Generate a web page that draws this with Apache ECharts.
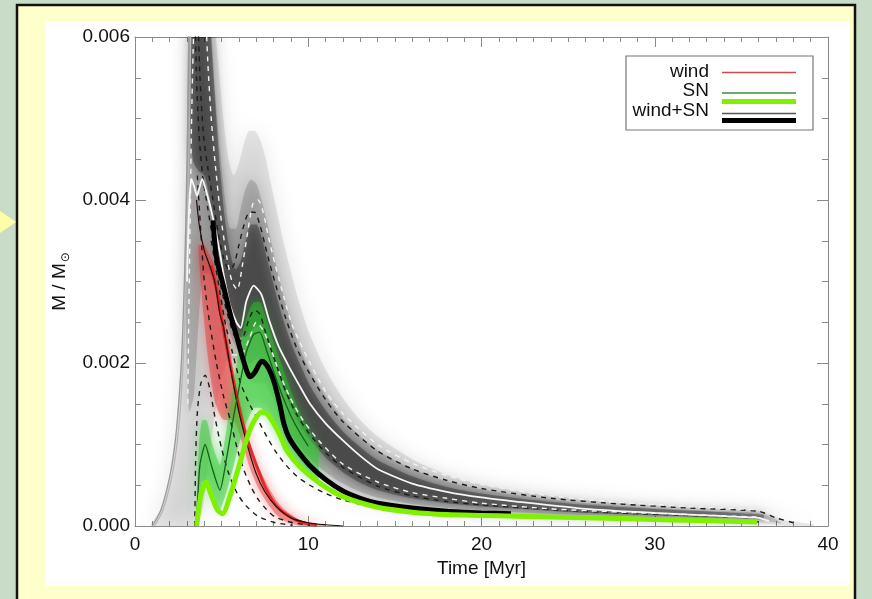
<!DOCTYPE html>
<html><head><meta charset="utf-8">
<script src="https://cdn.jsdelivr.net/npm/echarts@6/dist/echarts.min.js"></script>
<style>html,body{margin:0;padding:0;background:#c9dcc8;}#chart{width:872px;height:599px;}</style>
</head><body><div id="chart"></div>
<script>
// ---- axis ticks ----
const xTicks = [0, 10, 20, 30, 40];
const yTicks = [0.000, 0.002, 0.004, 0.006];

// ---- gray density of wind+SN (outer / mid / core envelopes) ----
const grayOuterX = [0.9,1.5,2.0,2.4,2.7,2.85,3.0,3.15,3.5,3.9,4.2,4.5,4.8,5.1,5.4,5.7,6.0,6.3,6.6,6.9,7.2,7.5,7.8,8.1,8.5,8.9,9.4,10,11,12,13,14,16,18,20,22,24,26,28,30,32,34,36,36.8,37.5,38.5,39.2];
const grayOuterLo = [0,0,0,0,0,0,0,0,0,0.0002,0.0007,0.0012,0.0016,0.0019,0.00205,0.00205,0.002,0.0019,0.0018,0.00175,0.00175,0.00175,0.00165,0.0015,0.0012,0.001,0.00085,0.0007,0.00053,0.0004,0.00032,0.00026,0.0002,0.00017,0.00015,0.00013,0.00011,0.0001,0.00009,0.00008,0.00007,0.00006,0.00004,0.00002,0,0,0];
const grayOuterHi = [0.00002,0.00022,0.00065,0.00125,0.0022,0.0031,0.0046,0.0065,0.0065,0.0065,0.0065,0.0063,0.0057,0.005,0.0045,0.0043,0.00445,0.0047,0.00485,0.00485,0.00475,0.00455,0.00425,0.00395,0.00355,0.0032,0.0028,0.0024,0.00192,0.00157,0.0013,0.0011,0.00082,0.00063,0.00051,0.00043,0.00037,0.00032,0.00028,0.00025,0.00022,0.0002,0.00018,0.00013,0.00007,0.00004,0.00002];

const grayMidX = [2.9,3.0,3.15,3.4,3.7,4.0,4.3,4.6,4.9,5.2,5.5,5.8,6.1,6.4,6.7,7.0,7.3,7.6,7.9,8.2,8.6,9.0,9.5,10,11,12,13,14,16,18,20,22,25,28,31,34,36,36.8,37.3];
const grayMidLo = [0.003,0.002,0.0014,0.0016,0.0026,0.0031,0.0031,0.00295,0.00275,0.00255,0.00235,0.0022,0.0021,0.002,0.002,0.00205,0.00205,0.00195,0.0018,0.0016,0.0013,0.00112,0.00098,0.00085,0.00066,0.00052,0.00042,0.00035,0.00027,0.00022,0.00019,0.00017,0.00014,0.00012,0.0001,0.00008,0.00007,0.00005,0.00003];
const grayMidHi = [0.003,0.0045,0.0065,0.0065,0.0065,0.0065,0.0063,0.0054,0.0046,0.004,0.00365,0.00365,0.0039,0.00415,0.00425,0.0042,0.004,0.00375,0.00345,0.00315,0.0028,0.0025,0.0022,0.00195,0.0016,0.00132,0.0011,0.00093,0.0007,0.00055,0.00045,0.00038,0.0003,0.00025,0.00021,0.00018,0.00016,0.0001,0.00004];

const grayCoreX = [3.2,3.4,3.7,4.0,4.3,4.6,4.9,5.2,5.5,5.8,6.1,6.4,6.7,7.0,7.3,7.6,7.9,8.2,8.6,9.1,9.6,10.1,11,12,13,14,16,18,20,23,26,30,34,36.3];
const grayCoreLo = [0.0047,0.00445,0.00435,0.0043,0.00405,0.00365,0.00325,0.0029,0.00262,0.00242,0.00232,0.00232,0.00238,0.00245,0.00245,0.00235,0.00215,0.00192,0.00167,0.00142,0.00122,0.00106,0.00084,0.00066,0.00053,0.00044,0.00034,0.00028,0.00024,0.0002,0.00016,0.00013,0.0001,0.00008];
const grayCoreHi = [0.0053,0.0065,0.0065,0.0065,0.0062,0.0053,0.0044,0.00375,0.00335,0.00315,0.00325,0.0035,0.0037,0.0037,0.00355,0.0033,0.00305,0.0028,0.0025,0.0022,0.00195,0.00172,0.00142,0.00116,0.00097,0.00081,0.00061,0.00048,0.0004,0.00032,0.00026,0.00021,0.00017,0.00014];

// ---- wind (red) and SN (green) densities ----
const redX  = [3.65,3.95,4.25,4.65,5.15,5.65,6.15,6.65,7.15,7.65,8.15,8.65,9.65,11];
const redLo = [0.0034,0.0026,0.002,0.0015,0.0013,0.0013,0.00105,0.0007,0.00045,0.00028,0.00014,0.00006,0,0];
const redHi = [0.00345,0.00345,0.00335,0.00315,0.0026,0.00195,0.00145,0.001,0.00072,0.0005,0.00032,0.0002,0.00006,0.00001];

const greenX  = [3.55,3.7,3.9,4.1,4.4,4.7,4.9,5.1,5.4,5.7,6.0,6.3,6.6,6.9,7.2,7.5,7.8,8.1,8.6,9.1,9.6,10.1,10.6];
const greenLo = [0,0.0003,0.00055,0.00055,0.0004,0.00025,0.0002,0.0003,0.0005,0.00075,0.001,0.0012,0.00135,0.00145,0.00145,0.0014,0.0013,0.0012,0.001,0.00085,0.00072,0.00062,0.00055];
const greenHi = [0.0003,0.001,0.0013,0.0013,0.00105,0.00085,0.00075,0.00095,0.00135,0.00175,0.00215,0.00245,0.00265,0.00275,0.00275,0.0026,0.0024,0.0022,0.0019,0.0016,0.00135,0.00115,0.00095];

// ---- left flank curves ----
const flank1X = [1.0,1.5,2.0,2.3,2.5,2.7,2.85,2.95,3.02,3.08,3.12];
const flank1Y = [0,0.0002,0.0006,0.001,0.00145,0.0021,0.003,0.0039,0.0047,0.0055,0.0065];
const flank2X = [1.12,1.62,2.12,2.42,2.62,2.8,2.95,3.05,3.12,3.18,3.22];
const flank2Y = [0,0.0002,0.0006,0.001,0.00145,0.0021,0.003,0.0039,0.0047,0.0055,0.0065];

// ---- medians ----
const medTotX = [3.0,3.12,3.26,3.42,3.58,3.72,3.88,4.12,4.5,4.9,5.1,5.47,5.85,6.1,6.43,6.85,7.3,7.75,8.3,8.9,9.5,10.1,11,12,13,14,16,18,20,22,26,30,34,36,36.6];
const medTotY = [0.003,0.0039,0.00426,0.00416,0.00405,0.00415,0.00426,0.0041,0.00378,0.00335,0.0031,0.00272,0.0025,0.00243,0.00276,0.00295,0.00284,0.00252,0.0022,0.00195,0.00172,0.0015,0.00126,0.00105,0.00086,0.0007,0.00052,0.00042,0.00035,0.0003,0.00021,0.00016,0.00012,0.0001,0.00006];

const medWindX = [3.55,3.73,4.0,4.3,4.6,4.9,5.1,5.5,6.0,6.5,7.0,7.5,8.1,9.0,10,11,12];
const medWindY = [0.004,0.00366,0.00338,0.0032,0.003,0.0026,0.00245,0.00195,0.0014,0.00098,0.00064,0.00042,0.00025,0.0001,0.00004,0.000015,0];

const medSNX = [3.56,3.75,4.05,4.4,4.9,5.3,5.7,6.1,6.45,6.85,7.2,7.6,8.0,8.5,9.0,9.5,10];
const medSNY = [0.0001,0.00075,0.001,0.00075,0.00044,0.00085,0.00135,0.0018,0.00215,0.00235,0.00238,0.00215,0.0019,0.0016,0.00135,0.00115,0.00098];

// ---- single model (thick lines) ----
const modelWindX = [4.4,4.8,5.2,5.67,6.23,6.83,7.6,8.37,9.52,10.5];
const modelWindY = [0.0032,0.0028,0.0023,0.00179,0.00125,0.00085,0.00044,0.0002,0.00005,0.00001];
const modelTotX = [4.5,4.7,5.1,5.5,5.9,6.3,6.64,6.9,7.31,7.5,7.75,8.05,8.35,8.6,8.9,9.4,10.1,11,12,13,14,16,18,20,21.7];
const modelTotY = [0.00375,0.0033,0.00295,0.0026,0.0023,0.002,0.00183,0.00188,0.00202,0.002,0.00192,0.00175,0.0015,0.00125,0.00108,0.00092,0.00074,0.00057,0.00043,0.00034,0.00028,0.00022,0.00018,0.00016,0.00015];
const modelSNX = [3.56,3.8,4.1,4.4,4.75,5.05,5.5,6.05,6.5,6.85,7.3,7.65,8.0,8.4,8.75,9.5,10.7,12,14,16,18,20,22,26,31,35.9];
const modelSNY = [0,0.00038,0.00054,0.00038,0.0002,0.00015,0.00038,0.00077,0.0011,0.00128,0.0014,0.00137,0.00126,0.0011,0.00093,0.00073,0.00052,0.00036,0.00023,0.00017,0.00014,0.00013,0.00012,0.0001,0.000075,0.00005];

// ---- percentile curves (dashed) ----
const pctB1X = [3.45,3.55,3.7,3.9,4.2,4.5,4.8,5.1,5.4,5.7,6.0,6.3,6.6,6.9,7.2,7.5,7.8,8.2,8.7,9.3,10,11,12,14,16,18,20,24,28,32,36];
const pctB1Y = [0.0065,0.0055,0.0048,0.0043,0.0039,0.0035,0.0031,0.0028,0.00255,0.00235,0.00225,0.00235,0.00255,0.00265,0.0026,0.0024,0.0022,0.00195,0.00165,0.00138,0.00115,0.0009,0.00072,0.00049,0.00037,0.0003,0.00026,0.0002,0.00016,0.00013,0.0001];
const pctB2X = [3.6,3.75,3.95,4.2,4.5,4.8,5.1,5.4,5.7,6.0,6.3,6.6,6.9,7.2,7.5,7.8,8.2,8.7,9.3,10,11,12,14,16,18,20,24,28,32,36,37,38];
const pctB2Y = [0.0065,0.0055,0.0048,0.0044,0.004,0.0036,0.0033,0.00315,0.0032,0.00345,0.0037,0.00385,0.00385,0.0037,0.00345,0.0032,0.0029,0.00255,0.0022,0.0019,0.00155,0.00128,0.00092,0.0007,0.00056,0.00046,0.00034,0.00027,0.00022,0.00018,0.0001,0.00004];
const pctB3X = [3.6,3.8,4.0,4.3,4.7,5.1,5.5,5.9,6.3,6.7,7.1,7.6,8.1,9.1,10.1];
const pctB3Y = [0.0043,0.0036,0.003,0.0025,0.002,0.0016,0.0013,0.00095,0.00068,0.00048,0.00033,0.0002,0.00011,0.00004,0.00001];
const pctB4X = [4.4,4.8,5.2,5.6,6.1,6.6,7.1,7.6,8.1,8.7,9.4,10.1,11,12,14,16,20,24,30,36];
const pctB4Y = [0.0035,0.003,0.0025,0.00215,0.00175,0.0015,0.0013,0.0011,0.00092,0.00075,0.0006,0.0005,0.0004,0.00032,0.00022,0.00017,0.00012,0.0001,0.00007,0.00005];
const pctB5X = [3.45,3.5,3.6,3.8,4.05,4.3,4.6,5.0,5.4,5.9,6.4,7.1,8.1,9.1];
const pctB5Y = [0,0.0008,0.0014,0.00175,0.00185,0.0017,0.00135,0.00095,0.00065,0.0004,0.00025,0.00012,0.00004,0.00001];
const pctW1X = [3.05,3.1,3.15,3.2,3.25,3.35,3.45];
const pctW1Y = [0.0015,0.0025,0.0033,0.004,0.0048,0.0058,0.0065];
const pctW2X = [4.05,4.2,4.4,4.65,4.95,5.3,5.6,5.9,6.2,6.5,6.8,7.1,7.4,7.7,8.1,8.6,9.1,10.1,11,12,14,16,18,20,24,28,32,36];
const pctW2Y = [0.0065,0.0057,0.005,0.0044,0.0038,0.0033,0.003,0.0029,0.0032,0.0036,0.00395,0.004,0.00385,0.00355,0.0032,0.0028,0.00245,0.002,0.00165,0.00138,0.001,0.00077,0.00062,0.00051,0.00037,0.00029,0.00024,0.0002];
const pctW3X = [5.6,6.1,6.6,7.0,7.4,7.8,8.3,8.9,9.6,10.6,12,14,16,18,20,24,28,32,36];
const pctW3Y = [0.0021,0.0021,0.0023,0.0025,0.0024,0.0022,0.0019,0.0016,0.00133,0.00105,0.00076,0.00054,0.00041,0.00034,0.00028,0.00021,0.00017,0.00014,0.00011];

// ---- legend ----
const legendLabels = ['wind', 'SN', 'wind+SN'];

// ================= build =================
const F = 'Liberation Sans, Arial, Helvetica, sans-serif';
const P = (xs, ys) => xs.map((x, i) => [x, ys[i]]);
// band rows are stored as [y, x] so that the stack is computed on the y value
const PY = (xs, ys) => xs.map((x, i) => [ys[i], x]);
function lineS(xs, ys, style, smooth) {
  return {type:'line', data:P(xs, ys), symbol:'none', silent:true, smooth:smooth===undefined?0.25:smooth,
          lineStyle:style, z:3};
}
function bandS(id, xs, lo, hi, fill, shadow, blur) {
  return [
    {type:'line', stack:id, encode:{x:1, y:0}, data:PY(xs, lo), symbol:'none', silent:true, smooth:0.25,
     lineStyle:{width:0, opacity:0}, z:2},
    {type:'line', stack:id, encode:{x:1, y:0}, data:PY(xs, hi.map((h, i) => h - lo[i])), symbol:'none', silent:true, smooth:0.25,
     lineStyle:{width:0, opacity:0}, areaStyle:{color:fill, opacity:1, shadowBlur:blur, shadowColor:shadow}, z:2}
  ];
}
const dashB = {color:'#1c1c1c', width:1.4, type:[5,5]};
const dashW = {color:'#f2f2f2', width:1.4, type:[5,5]};

const axisCommon = {
  axisLine:{show:true, onZero:false, lineStyle:{color:'#8a8a8a', width:1}},
  splitLine:{show:false}, minorSplitLine:{show:false}
};

const series = [].concat(
  bandS('go', grayOuterX, grayOuterLo, grayOuterHi, 'rgba(0,0,0,0.09)', '#000', 22),
  bandS('gm', grayMidX, grayMidLo, grayMidHi, 'rgba(0,0,0,0.15)', '#000', 16),
  bandS('gc', grayCoreX, grayCoreLo, grayCoreHi, 'rgba(0,0,0,0.30)', '#000', 10),
  bandS('rd', redX, redLo, redHi, 'rgba(228,40,40,0.42)', '#e02828', 12),
  bandS('gr', greenX, greenLo, greenHi, 'rgba(40,200,40,0.45)', '#28c828', 12),
  [
    lineS(flank1X, flank1Y, {color:'#9a9a9a', width:1.3}),
    lineS(flank2X, flank2Y, {color:'#b5b5b5', width:1.3}),
    lineS(modelWindX, modelWindY, {color:'rgba(225,25,25,0.85)', width:3}),
    lineS(pctB1X, pctB1Y, dashB),
    lineS(pctB2X, pctB2Y, dashB),
    lineS(pctB3X, pctB3Y, dashB),
    lineS(pctB4X, pctB4Y, dashB),
    lineS(pctB5X, pctB5Y, dashB),
    lineS(pctW1X, pctW1Y, dashW),
    lineS(pctW2X, pctW2Y, dashW),
    lineS(pctW3X, pctW3Y, dashW),
    lineS(medTotX, medTotY, {color:'#f6f6f6', width:1.8}, 0.2),
    lineS(medWindX, medWindY, {color:'#2a0808', width:1.2}),
    lineS(medSNX, medSNY, {color:'#16601a', width:1.3}, 0.2),
    lineS(modelTotX, modelTotY, {color:'#000', width:5, cap:'butt'}, 0.25),
    lineS(modelSNX, modelSNY, {color:'#7ff000', width:5, cap:'butt'}, 0.25)
  ]
);

const chart = echarts.init(document.getElementById('chart'), null, {renderer:'canvas'});
chart.setOption({
  animation:false,
  backgroundColor:'transparent',
  grid:{left:135, top:37, right:44, bottom:73, outerBoundsMode:'none'},
  xAxis:[
    Object.assign({type:'value', min:xTicks[0], max:xTicks[xTicks.length-1], interval:xTicks[1]-xTicks[0], position:'bottom',
      axisTick:{show:true, inside:true, length:10, lineStyle:{color:'#8a8a8a'}},
      minorTick:{show:true, splitNumber:10, length:5, lineStyle:{color:'#8a8a8a'}},
      axisLabel:{margin:9, color:'#111', fontSize:19, fontFamily:F},
      name:'Time [Myr]', nameLocation:'middle', nameGap:32,
      nameTextStyle:{color:'#111', fontSize:19, fontFamily:F}}, axisCommon),
    Object.assign({type:'value', min:xTicks[0], max:xTicks[xTicks.length-1], interval:xTicks[1]-xTicks[0], position:'top',
      axisTick:{show:true, inside:true, length:10, lineStyle:{color:'#8a8a8a'}},
      minorTick:{show:true, splitNumber:10, length:5, lineStyle:{color:'#8a8a8a'}},
      axisLabel:{show:false}}, axisCommon)
  ],
  yAxis:[
    Object.assign({type:'value', min:yTicks[0], max:yTicks[yTicks.length-1], interval:yTicks[1]-yTicks[0], position:'left',
      axisTick:{show:true, inside:true, length:11, lineStyle:{color:'#8a8a8a'}},
      minorTick:{show:true, splitNumber:4, length:6, lineStyle:{color:'#8a8a8a'}},
      axisLabel:{margin:5, color:'#111', fontSize:19, fontFamily:F, formatter:v => v.toFixed(3)},
      name:'{a|M / M}{b|⊙}', nameLocation:'middle', nameGap:57, nameRotate:90,
      nameTextStyle:{rich:{
        a:{fontSize:19, fontFamily:F, color:'#111', lineHeight:24},
        b:{fontSize:12, fontFamily:'DejaVu Sans, sans-serif', color:'#111', lineHeight:13, verticalAlign:'bottom', padding:[0,0,0,1]}
      }}}, axisCommon),
    Object.assign({type:'value', min:yTicks[0], max:yTicks[yTicks.length-1], interval:yTicks[1]-yTicks[0], position:'right',
      axisTick:{show:true, inside:true, length:11, lineStyle:{color:'#8a8a8a'}},
      minorTick:{show:true, splitNumber:4, length:6, lineStyle:{color:'#8a8a8a'}},
      axisLabel:{show:false}}, axisCommon)
  ],
  graphic:[
    {type:'rect', z:-10, shape:{x:17, y:5, width:838, height:620}, style:{fill:'#ffffcc', stroke:'#111', lineWidth:2.5}},
    {type:'rect', z:-9, shape:{x:45, y:21, width:804, height:565}, style:{fill:'#ffffff'}},
    {type:'polygon', z:-9, shape:{points:[[0,211],[16,222],[0,233]]}, style:{fill:'#ffffa8'}},
    {type:'group', z:100, children:[
      {type:'rect', z:100, shape:{x:626, y:56, width:187, height:74}, style:{fill:'#fff', stroke:'#777', lineWidth:1.2}},
      {type:'text', z:101, x:709, y:72, style:{text:legendLabels[0], fill:'#111', fontSize:19, fontFamily:F, align:'right', verticalAlign:'middle'}},
      {type:'text', z:101, x:709, y:91, style:{text:legendLabels[1], fill:'#111', fontSize:19, fontFamily:F, align:'right', verticalAlign:'middle'}},
      {type:'text', z:101, x:709, y:111, style:{text:legendLabels[2], fill:'#111', fontSize:19, fontFamily:F, align:'right', verticalAlign:'middle'}},
      {type:'line', z:101, shape:{x1:722, y1:72.5, x2:796, y2:72.5}, style:{stroke:'#d24a4a', lineWidth:1.5}},
      {type:'line', z:101, shape:{x1:722, y1:93, x2:796, y2:93}, style:{stroke:'#3c8c3c', lineWidth:1.3}},
      {type:'line', z:101, shape:{x1:722, y1:101.5, x2:796, y2:101.5}, style:{stroke:'#7ff000', lineWidth:5}},
      {type:'line', z:101, shape:{x1:722, y1:113.5, x2:796, y2:113.5}, style:{stroke:'#555', lineWidth:1.3}},
      {type:'line', z:101, shape:{x1:722, y1:120.5, x2:796, y2:120.5}, style:{stroke:'#000', lineWidth:5}}
    ]}
  ],
  series: series
});
</script></body></html>
